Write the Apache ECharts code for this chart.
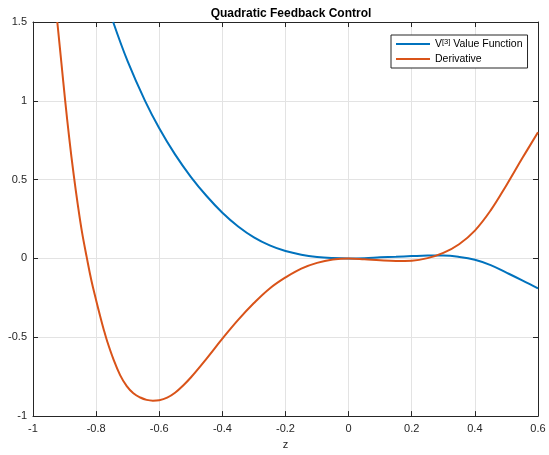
<!DOCTYPE html>
<html>
<head>
<meta charset="utf-8">
<script src="https://cdn.jsdelivr.net/npm/echarts@6/dist/echarts.min.js"></script>
<style>
  html, body { margin: 0; padding: 0; background: #fff; }
  #chart { width: 549px; height: 455px; }
</style>
</head>
<body>
<div id="chart"></div>
<script>
// values
const valueZ = [-0.746, -0.7, -0.645, -0.6, -0.55, -0.5, -0.45, -0.4, -0.35, -0.3, -0.25, -0.2, -0.15, -0.1, -0.05, 0,
  0.05, 0.1, 0.15, 0.2, 0.25, 0.3, 0.35, 0.4, 0.45, 0.5, 0.55, 0.6];
const valueV = [1.5, 1.25, 1.0, 0.826, 0.66, 0.518, 0.396, 0.29, 0.203, 0.134, 0.083, 0.047, 0.024, 0.01, 0.003, 0,
  0.002, 0.007, 0.011, 0.015, 0.018, 0.018, 0.01, -0.008, -0.042, -0.09, -0.139, -0.19];

const derivZ = [-0.923, -0.91, -0.898, -0.885, -0.871, -0.858, -0.845, -0.83, -0.815, -0.8, -0.788, -0.776,
  -0.765, -0.745, -0.724, -0.703, -0.682, -0.66, -0.64, -0.62, -0.6, -0.575, -0.55, -0.525, -0.5, -0.45, -0.4, -0.35,
  -0.3, -0.25, -0.2, -0.15, -0.1, -0.05, 0, 0.05, 0.1, 0.15, 0.2, 0.25, 0.3, 0.35, 0.4, 0.45, 0.5, 0.55, 0.6];
const derivD = [1.5, 1.24, 1.0, 0.76, 0.53, 0.34, 0.17, 0.01, -0.14, -0.265, -0.36, -0.45,
  -0.525, -0.64, -0.74, -0.81, -0.855, -0.882, -0.897, -0.902, -0.899, -0.883, -0.852, -0.807, -0.755, -0.635, -0.509,
  -0.39, -0.283, -0.19, -0.12, -0.064, -0.028, -0.007, 0, -0.005, -0.012, -0.016, -0.014, 0.002, 0.035, 0.09, 0.177,
  0.305, 0.465, 0.635, 0.8];

const xTicks = { min: -1, max: 0.6, interval: 0.2 };
const yTicks = { min: -1, max: 1.5, interval: 0.5 };

const pairs = (xs, ys) => xs.map((x, i) => [x, ys[i]]);

const font = 'Liberation Sans, Arial, Helvetica, sans-serif';
const ink = '#262626';

const boxAxis = (extra) => Object.assign({
  type: 'value',
  axisLine: { show: true, onZero: false, lineStyle: { color: ink, width: 1 } },
  axisTick: { show: true, inside: true, length: 5, lineStyle: { color: ink } },
}, extra);

const chart = echarts.init(document.getElementById('chart'));
chart.setOption({
  animation: false,
  title: {
    text: 'Quadratic Feedback Control',
    left: 286, top: 3, textAlign: 'center',
    textStyle: { fontFamily: font, fontSize: 12, fontWeight: 'bold', color: '#000' },
  },
  grid: { left: 33, right: 11, top: 22, bottom: 34 },
  legend: {
    orient: 'vertical',
    left: 391, top: 35,
    padding: [3, 5, 3, 5],
    itemGap: 3,
    itemWidth: 34, itemHeight: 2,
    icon: 'rect',
    borderColor: ink, borderWidth: 1,
    backgroundColor: '#fff',
    textStyle: {
      fontFamily: font, fontSize: 10.5, color: '#000', lineHeight: 12,
      rich: {
        sup: { fontSize: 7.5, fontFamily: font, color: '#000', lineHeight: 7, verticalAlign: 'top' },
        txt: { fontSize: 10.5, fontFamily: font, color: '#000', lineHeight: 12 },
      },
    },
    formatter: (name) => name === 'V3' ? '{txt|V}{sup|[3]}{txt| Value Function}' : name,
    data: ['V3', 'Derivative'],
  },
  xAxis: [
    boxAxis(Object.assign({}, xTicks, {
      position: 'bottom',
      name: 'z', nameLocation: 'middle', nameGap: 22,
      nameTextStyle: { fontFamily: font, fontSize: 11, color: ink },
      axisLabel: { fontFamily: font, fontSize: 11, color: ink, margin: 7 },
      splitLine: { show: true, lineStyle: { color: '#e3e3e3', width: 1 } },
    })),
    boxAxis(Object.assign({}, xTicks, {
      position: 'top',
      axisLabel: { show: false },
      splitLine: { show: false },
    })),
  ],
  yAxis: [
    boxAxis(Object.assign({}, yTicks, {
      position: 'left',
      axisLabel: { fontFamily: font, fontSize: 11, color: ink, margin: 6 },
      splitLine: { show: true, lineStyle: { color: '#e3e3e3', width: 1 } },
    })),
    boxAxis(Object.assign({}, yTicks, {
      position: 'right',
      axisLabel: { show: false },
      splitLine: { show: false },
    })),
  ],
  series: [
    {
      name: 'V3', type: 'line', data: pairs(valueZ, valueV),
      smooth: 0.4, showSymbol: false, clip: true,
      itemStyle: { color: '#0072BD' },
      lineStyle: { color: '#0072BD', width: 2 },
    },
    {
      name: 'Derivative', type: 'line', data: pairs(derivZ, derivD),
      smooth: 0.4, showSymbol: false, clip: true,
      itemStyle: { color: '#D95319' },
      lineStyle: { color: '#D95319', width: 2 },
    },
  ],
});
</script>
</body>
</html>
